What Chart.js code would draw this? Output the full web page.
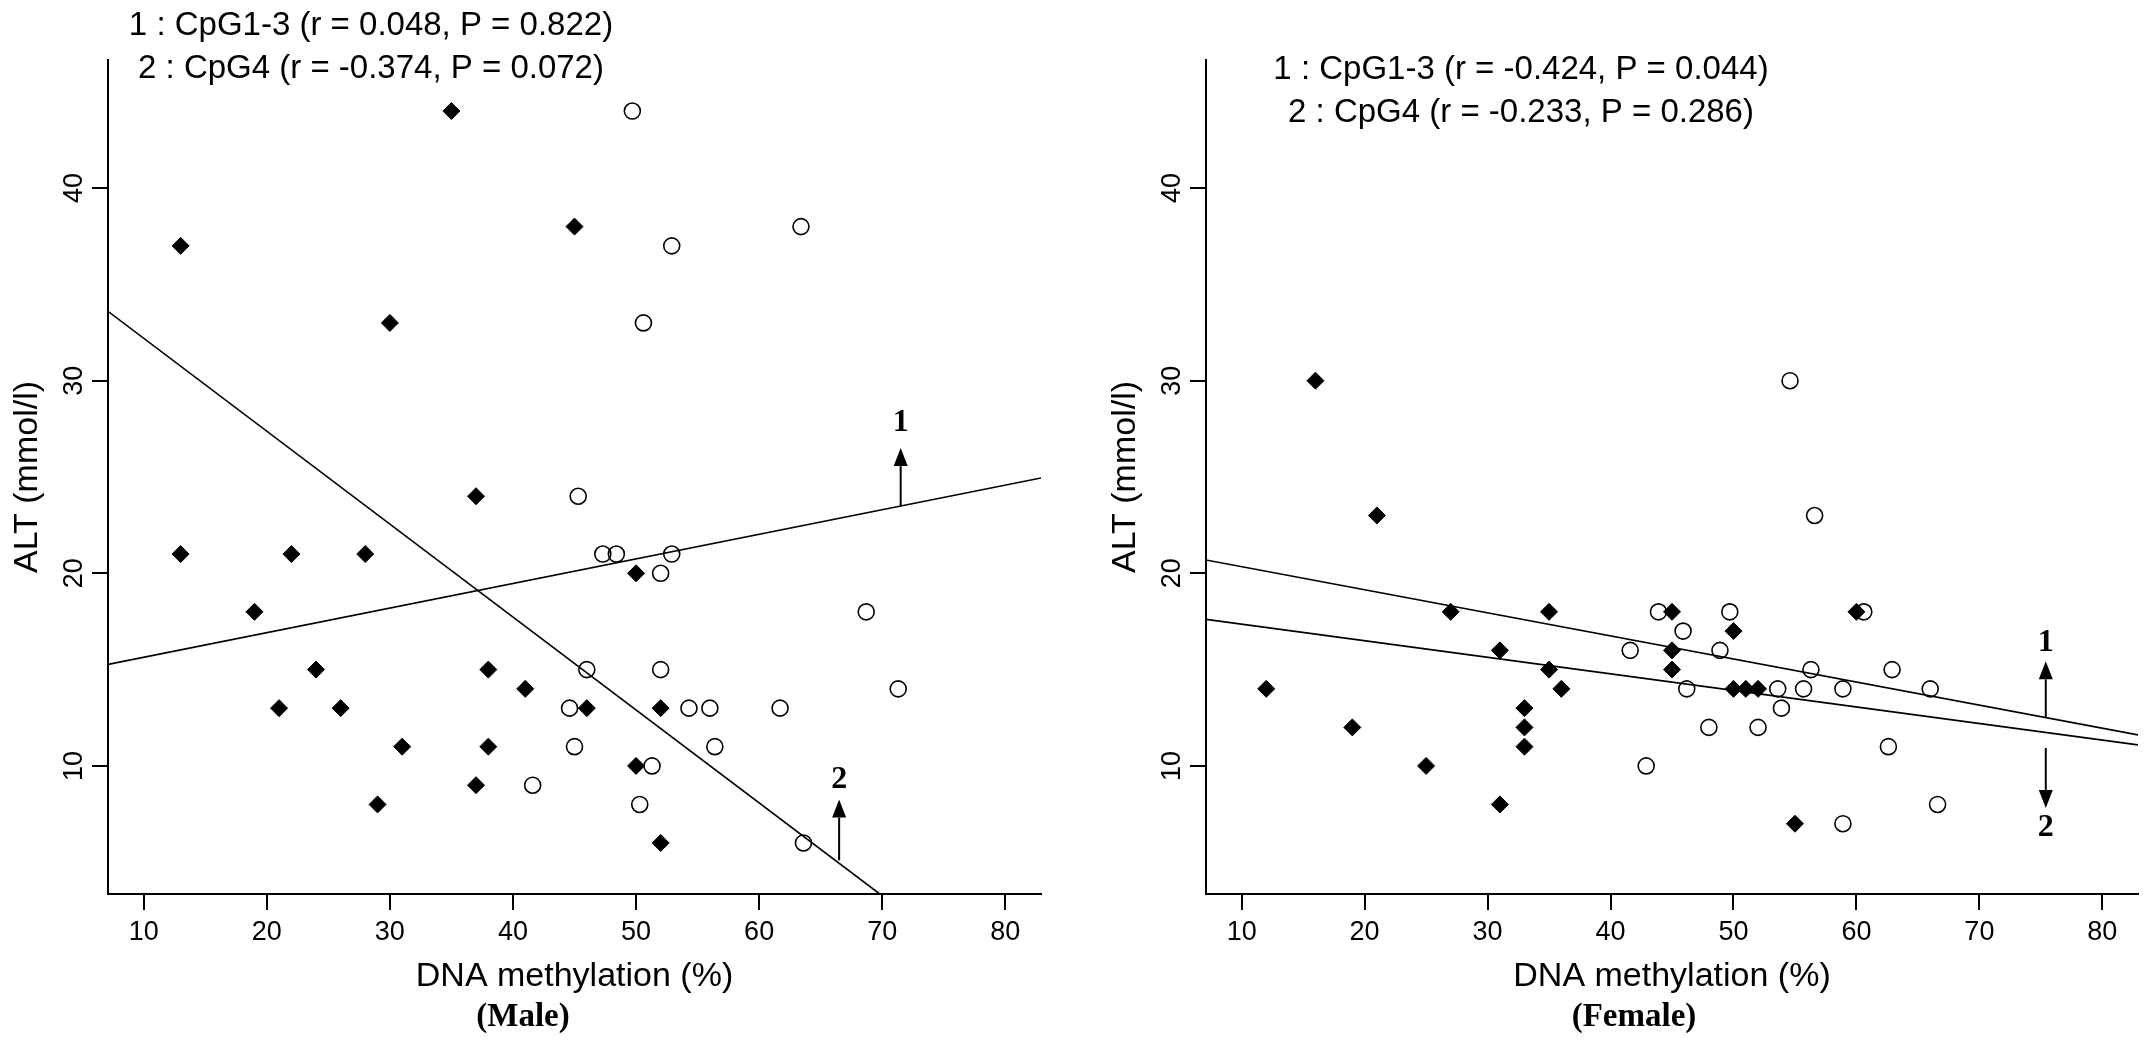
<!DOCTYPE html>
<html>
<head>
<meta charset="utf-8">
<title>ALT vs DNA methylation</title>
<script src="https://cdn.jsdelivr.net/npm/chart.js@4.4.1/dist/chart.umd.min.js"></script>
<style>
    html, body { margin: 0; padding: 0; background: #fff; }
    body { width: 2150px; height: 1045px; position: relative; overflow: hidden; }
    .panel { position: absolute; top: 0; height: 1045px; }
    #malePanel { left: 0; width: 1075px; }
    #femalePanel { left: 1098px; width: 1052px; }
</style>
</head>
<body>
<div class="panel" id="malePanel"><canvas id="maleChart"></canvas></div>
<div class="panel" id="femalePanel"><canvas id="femaleChart"></canvas></div>

<script>
// tick labels
const xTicks = [10, 20, 30, 40, 50, 60, 70, 80];
const yTicks = [10, 20, 30, 40];

// MALE - CpG1-3 (open circles)
const maleCpg13X = [49.7, 63.4, 52.9, 50.6, 45.3, 47.3, 48.4, 52.9, 52.0, 68.7, 46.0, 52.0, 71.3, 44.6, 54.3, 56.0, 61.7, 45.0, 56.4, 51.3, 41.6, 50.3, 63.6];
const maleCpg13Y = [44, 38, 37, 33, 24, 21, 21, 21, 20, 18, 15, 15, 14, 13, 13, 13, 13, 11, 11, 10, 9, 8, 6];

// MALE - CpG4 (filled diamonds)
const maleCpg4X = [35, 13, 45, 30, 37, 13, 22, 28, 50, 19, 24, 38, 41, 21, 26, 46, 52, 31, 38, 50, 37, 29, 52];
const maleCpg4Y = [44, 37, 38, 33, 24, 21, 21, 21, 20, 18, 15, 15, 14, 13, 13, 13, 13, 11, 11, 10, 9, 8, 6];

// FEMALE - CpG1-3 (open circles)
const femaleCpg13X = [54.6, 56.6, 43.9, 49.7, 60.6, 45.9, 41.6, 48.9, 56.3, 62.9, 46.2, 53.6, 55.7, 58.9, 66.0, 53.9, 48.0, 52.0, 62.6, 42.9, 66.6, 58.9];
const femaleCpg13Y = [30, 23, 18, 18, 18, 17, 16, 16, 15, 15, 14, 14, 14, 14, 14, 13, 12, 12, 11, 10, 8, 7];

// FEMALE - CpG4 (filled diamonds)
const femaleCpg4X = [16, 21, 27, 35, 45, 60, 50, 31, 45, 35, 45, 12, 36, 50, 51, 52, 33, 19, 33, 33, 25, 31, 55];
const femaleCpg4Y = [30, 23, 18, 18, 18, 18, 17, 16, 16, 15, 15, 14, 14, 14, 14, 14, 13, 12, 12, 11, 10, 8, 7];

// regression lines (end points)
const maleLine1X = [7.1, 82.9];
const maleLine1Y = [15.27, 24.95];
const maleLine2X = [7.1, 69.8];
const maleLine2Y = [33.6, 3.35];
const femaleLine1X = [7.1, 82.9];
const femaleLine1Y = [20.69, 11.61];
const femaleLine2X = [7.1, 82.9];
const femaleLine2Y = [17.61, 11.09];

// arrows marking the lines (1, 2)
const maleArrowX = [71.5, 66.5];
const maleArrowFrom = [23.5, 5.1];
const maleArrowTo = [26.5, 8.25];
const maleArrowLabelY = [27.8, 9.3];
const femaleArrowX = [75.4, 75.4];
const femaleArrowFrom = [12.5, 10.93];
const femaleArrowTo = [15.43, 7.82];
const femaleArrowLabelY = [16.4, 6.8];

// text
const maleHeader = ["1 : CpG1-3 (r = 0.048, P = 0.822)", "2 : CpG4 (r = -0.374, P = 0.072)"];
const femaleHeader = ["1 : CpG1-3 (r = -0.424, P = 0.044)", "2 : CpG4 (r = -0.233, P = 0.286)"];


Chart.defaults.font.family = '"Liberation Sans", Arial, sans-serif';
Chart.defaults.color = "#000";

function toPoints(xs, ys) {
    return xs.map((x, i) => ({ x: x, y: ys[i] }));
}

// header text, group label and the small arrows
const notesPlugin = {
    id: "notes",
    afterDraw(chart, args, opts) {
        const ctx = chart.ctx;
        const xs = chart.scales.x;
        const ys = chart.scales.y;

        ctx.save();
        ctx.fillStyle = "#000";
        ctx.strokeStyle = "#000";
        ctx.textAlign = "center";
        ctx.textBaseline = "middle";

        ctx.font = '33px "Liberation Sans", Arial, sans-serif';
        opts.header.forEach((t, i) => {
            ctx.fillText(t, opts.headerX, opts.headerY[i]);
        });

        ctx.font = 'bold 33px "Liberation Serif", "Times New Roman", serif';
        ctx.fillText(opts.group, opts.groupX, opts.groupY);

        ctx.lineWidth = 2;
        opts.arrowX.forEach((x, i) => {
            const px = xs.getPixelForValue(x);
            const y0 = ys.getPixelForValue(opts.arrowFrom[i]);
            const y1 = ys.getPixelForValue(opts.arrowTo[i]);
            const dir = y1 < y0 ? 1 : -1;
            const headLen = 18;
            const headHalf = 7;

            ctx.beginPath();
            ctx.moveTo(px, y0);
            ctx.lineTo(px, y1 + dir * headLen);
            ctx.stroke();

            ctx.beginPath();
            ctx.moveTo(px, y1);
            ctx.lineTo(px - headHalf, y1 + dir * headLen);
            ctx.lineTo(px + headHalf, y1 + dir * headLen);
            ctx.closePath();
            ctx.fill();

            ctx.font = 'bold 32px "Liberation Serif", "Times New Roman", serif';
            ctx.fillText(String(i + 1), px, ys.getPixelForValue(opts.arrowLabelY[i]));
        });
        ctx.restore();
    }
};

function makePanel(canvasId, cfg) {
    const canvas = document.getElementById(canvasId);

    if (!canvas) {
        console.log("Canvas not found:", canvasId);
        return;
    }

    new Chart(canvas, {
        type: "scatter",
        data: {
            datasets: [
                {
                    label: "line 1",
                    data: toPoints(cfg.line1X, cfg.line1Y),
                    showLine: true,
                    borderColor: "#000",
                    borderWidth: 1.6,
                    pointRadius: 0,
                    fill: false
                },
                {
                    label: "line 2",
                    data: toPoints(cfg.line2X, cfg.line2Y),
                    showLine: true,
                    borderColor: "#000",
                    borderWidth: 1.6,
                    pointRadius: 0,
                    fill: false
                },
                {
                    label: "CpG1-3",
                    data: toPoints(cfg.circleX, cfg.circleY),
                    pointStyle: "circle",
                    pointRadius: 8,
                    borderWidth: 1.6,
                    borderColor: "#000",
                    backgroundColor: "rgba(0,0,0,0)"
                },
                {
                    label: "CpG4",
                    data: toPoints(cfg.diamondX, cfg.diamondY),
                    pointStyle: "rectRot",
                    pointRadius: 8.5,
                    borderWidth: 1,
                    borderColor: "#000",
                    backgroundColor: "#000"
                }
            ]
        },
        options: {
            responsive: true,
            maintainAspectRatio: false,
            animation: false,
            layout: {
                padding: { top: 60, right: cfg.padRight, left: 0, bottom: 0 }
            },
            plugins: {
                legend: { display: false },
                tooltip: { enabled: false },
                notes: cfg.notes
            },
            scales: {
                x: {
                    type: "linear",
                    min: 7.1,
                    max: 82.9,
                    afterBuildTicks: s => { s.ticks = xTicks.map(v => ({ value: v })); },
                    afterFit: s => { s.height = 151; },
                    border: { display: true, color: "#000", width: 2 },
                    grid: { drawOnChartArea: false, drawTicks: true, tickLength: 16, color: "#000", lineWidth: 2 },
                    ticks: { color: "#000", font: { size: 27 }, padding: 6, maxRotation: 0 },
                    title: {
                        display: true,
                        text: "DNA methylation (%)",
                        color: "#000",
                        font: { size: 34 },
                        padding: { top: 0, bottom: 48 }
                    }
                },
                y: {
                    type: "linear",
                    min: 3.35,
                    max: 46.65,
                    afterBuildTicks: s => { s.ticks = yTicks.map(v => ({ value: v })); },
                    afterFit: s => { s.width = 108; },
                    border: { display: true, color: "#000", width: 2 },
                    grid: { drawOnChartArea: false, drawTicks: true, tickLength: 16, color: "#000", lineWidth: 2 },
                    ticks: { color: "#000", font: { size: 27 }, padding: 2, minRotation: 90, maxRotation: 90, crossAlign: "center" },
                    title: {
                        display: true,
                        text: "ALT (mmol/l)",
                        color: "#000",
                        font: { size: 34 },
                        padding: { top: 7, bottom: 0 }
                    }
                }
            }
        },
        plugins: [notesPlugin]
    });
}

makePanel("maleChart", {
    circleX: maleCpg13X, circleY: maleCpg13Y,
    diamondX: maleCpg4X, diamondY: maleCpg4Y,
    line1X: maleLine1X, line1Y: maleLine1Y,
    line2X: maleLine2X, line2Y: maleLine2Y,
    padRight: 34,
    notes: {
        header: maleHeader, headerX: 371, headerY: [26, 69],
        group: "(Male)", groupX: 523, groupY: 1017,
        arrowX: maleArrowX, arrowFrom: maleArrowFrom, arrowTo: maleArrowTo, arrowLabelY: maleArrowLabelY
    }
});

makePanel("femaleChart", {
    circleX: femaleCpg13X, circleY: femaleCpg13Y,
    diamondX: femaleCpg4X, diamondY: femaleCpg4Y,
    line1X: femaleLine1X, line1Y: femaleLine1Y,
    line2X: femaleLine2X, line2Y: femaleLine2Y,
    padRight: 12,
    notes: {
        header: femaleHeader, headerX: 423, headerY: [70, 113],
        group: "(Female)", groupX: 536, groupY: 1017,
        arrowX: femaleArrowX, arrowFrom: femaleArrowFrom, arrowTo: femaleArrowTo, arrowLabelY: femaleArrowLabelY
    }
});
</script>
</body>
</html>
